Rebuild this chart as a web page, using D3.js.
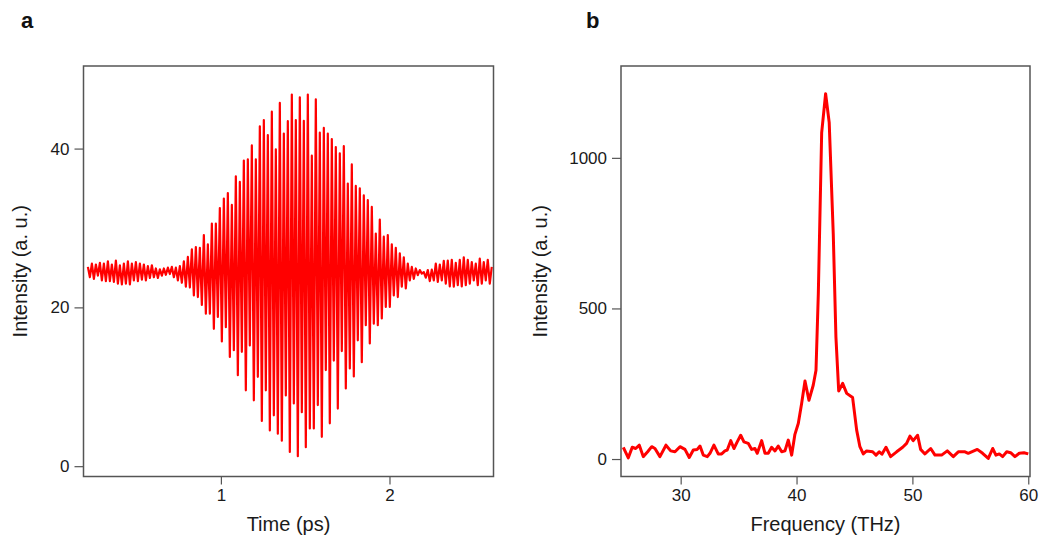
<!DOCTYPE html>
<html>
<head>
<meta charset="utf-8">
<script src="https://cdn.jsdelivr.net/npm/d3@7"></script>
<style>
  body { margin: 0; background: #fff; }
  svg { display: block; font-family: "Liberation Sans", Arial, sans-serif; }
  .tick text { font-size: 17px; fill: #1a1a1a; }
  .axis-title { font-size: 20px; fill: #1a1a1a; }
  .panel-label { font-size: 22px; font-weight: bold; fill: #111; }
</style>
</head>
<body>
<div id="chart"></div>
<script>
// Panel a: time trace, alternating maxima / minima of the oscillation
let tStart = 0.211, tCycle = 0.02372;   // ps, first maximum and oscillation period
let peaks = [
  25.1, 25.5, 25.4, 25.6, 25.5, 25.8, 25.4, 25.9, 25.3, 25.5, 25.8, 25.5, 25.7, 25.5, 25.4, 25.2, 25.3, 24.9, 24.8, 24.9, 25.0,
  25.1, 25.0, 25.2, 25.8, 26.35, 27.3, 27.6, 27.5, 29.1, 27.95, 30.55, 30.55, 32.5, 33.7, 34.4, 32.9, 36.5, 35.8, 38.5, 38.65,
  40.4, 38.65, 42.8, 43.6, 41.7, 44.65, 39.9, 45.75, 41.9, 43.45, 46.8, 43.6, 46.45, 43.5, 46.8, 39.1, 46.2, 42.0, 42.6, 41.9,
  41.2, 40.2, 39.4, 40.3, 35.6, 38.0, 35.3, 35.0, 34.1, 33.5, 32.65, 29.3, 31.05, 28.9, 29.1, 27.95, 27.5, 26.8, 26.3, 25.5,
  25.1, 24.9, 24.7, 24.45, 24.7, 24.75, 25.5, 25.4, 25.85, 25.9, 26.0, 25.6, 26.0, 26.3, 26.0, 25.7, 25.5, 26.15, 25.7, 26.0, 25.1
];
let troughs = [
  23.8, 23.6, 24.0, 23.4, 23.3, 23.3, 23.2, 23.0, 22.9, 23.0, 22.9, 23.4, 23.3, 23.5, 23.4, 23.7, 23.8, 23.7, 24.0, 24.1, 24.2,
  23.8, 23.4, 23.1, 22.6, 22.5, 21.5, 21.3, 20.3, 19.2, 19.2, 17.3, 18.8, 15.7, 17.5, 13.75, 14.6, 11.45, 14.4, 9.55, 15.2,
  8.3, 11.25, 5.7, 9.55, 4.5, 6.4, 4.1, 3.2, 8.9, 1.8, 7.9, 1.25, 6.8, 2.4, 4.75, 4.75, 7.7, 3.7, 12.1, 5.4,
  13.3, 7.25, 14.5, 9.8, 12.3, 11.3, 15.85, 13.1, 17.75, 15.45, 17.95, 17.75, 18.6, 20.05, 20.05, 21.5, 21.3, 22.6, 22.4, 23.4,
  23.6, 24.05, 24.25, 23.75, 23.3, 23.4, 23.2, 23.4, 23.0, 22.65, 22.6, 22.8, 22.65, 22.8, 23.0, 23.4, 22.8, 23.0, 23.4, 23.0
];
let timeTicks = [1, 2];
let traceTicks = [0, 20, 40];

// Panel b: spectrum
let freq = [
  25.05, 25.48, 25.82, 26.12, 26.43, 26.77, 27.15, 27.5, 27.78, 28.21, 28.73, 29.14, 29.51, 29.94, 30.37, 30.74, 31.09,
  31.43, 31.67, 31.95, 32.3, 32.53, 32.87, 33.24, 33.54, 33.82, 34.02, 34.32, 34.6, 34.88, 35.18, 35.46, 35.83, 36.13,
  36.41, 36.61, 36.99, 37.28, 37.56, 37.85, 38.14, 38.42, 38.72, 39.0, 39.29, 39.58, 39.86, 40.15, 40.44, 40.73, 41.07,
  41.44, 41.68, 41.88, 42.17, 42.51, 42.82, 43.17, 43.4, 43.64, 43.98, 44.33, 44.84, 45.19, 45.47, 45.76, 46.05, 46.57,
  46.86, 47.14, 47.37, 47.72, 48.12, 48.64, 49.16, 49.5, 49.79, 50.07, 50.45, 50.71, 51.08, 51.58, 51.95, 52.52, 53.01,
  53.53, 53.96, 54.54, 54.82, 55.6, 56.06, 56.55, 56.93, 57.21, 57.5, 57.79, 58.14, 58.48, 58.85, 59.22, 59.63, 60.0
];
let spectrum = [
  39, 4, 39, 35, 46, 8, 24, 41, 35, 8, 46, 27, 24, 41, 32, 5, 30,
  32, 43, 13, 8, 19, 46, 17, 17, 27, 30, 61, 35, 57, 79, 57, 52, 32,
  35, 19, 61, 19, 19, 39, 27, 43, 24, 27, 63, 13, 82, 118, 184, 259, 195,
  245, 295, 549, 1084, 1213, 1117, 747, 405, 226, 251, 218, 204, 96, 41, 17, 27, 24,
  13, 24, 16, 39, 8, 24, 39, 52, 76, 61, 79, 32, 17, 35, 13, 13, 27,
  8, 24, 24, 19, 32, 19, 2, 35, 13, 17, 8, 24, 21, 8, 19, 21, 17
];
let freqTicks = [30, 40, 50, 60];
let specTicks = [0, 500, 1000];

let W = 1041, H = 542;
let svg = d3.select("#chart").append("svg")
    .attr("width", W)
    .attr("height", H);

// build trace points: max, min, max, min ...
let trace = [];
peaks.forEach(function(p, i) {
    trace.push({t: tStart + i * tCycle, v: p});
    if (i < troughs.length) trace.push({t: tStart + (i + 0.5) * tCycle, v: troughs[i]});
});
let specData = freq.map(function(f, i) { return {f: f, v: spectrum[i]}; });

function drawPanel(opts) {
    let box = opts.box;
    let x = d3.scaleLinear().domain(opts.xDomain).range([box.left, box.right]);
    let y = d3.scaleLinear().domain(opts.yDomain).range([box.bottom, box.top]);

    svg.append("g")
        .attr("transform", "translate(0," + box.bottom + ")")
        .call(d3.axisBottom(x).tickValues(opts.xTicks).tickSize(8).tickPadding(4).tickFormat(d3.format("d")))
        .call(function(g) { g.select(".domain").remove(); })
        .call(function(g) { g.selectAll(".tick line").attr("stroke", "#555").attr("stroke-width", 1.2); });

    svg.append("g")
        .attr("transform", "translate(" + box.left + ",0)")
        .call(d3.axisLeft(y).tickValues(opts.yTicks).tickSize(9).tickPadding(5).tickFormat(d3.format("d")))
        .call(function(g) { g.select(".domain").remove(); })
        .call(function(g) { g.selectAll(".tick line").attr("stroke", "#555").attr("stroke-width", 1.2); });

    let clipId = "clip-" + opts.name;
    svg.append("clipPath").attr("id", clipId)
        .append("rect")
        .attr("x", box.left).attr("y", box.top)
        .attr("width", box.right - box.left).attr("height", box.bottom - box.top);

    svg.append("path")
        .datum(opts.data)
        .attr("clip-path", "url(#" + clipId + ")")
        .attr("fill", "none")
        .attr("stroke", "#ff0000")
        .attr("stroke-width", opts.lineWidth)
        .attr("stroke-linejoin", "round")
        .attr("d", d3.line().x(function(d) { return x(d[opts.xKey]); }).y(function(d) { return y(d.v); }));

    svg.append("rect")
        .attr("x", box.left).attr("y", box.top)
        .attr("width", box.right - box.left).attr("height", box.bottom - box.top)
        .attr("fill", "none")
        .attr("stroke", "#555")
        .attr("stroke-width", 1.5);

    svg.append("text")
        .attr("class", "axis-title")
        .attr("x", (box.left + box.right) / 2)
        .attr("y", 531)
        .attr("text-anchor", "middle")
        .text(opts.xTitle);

    svg.append("text")
        .attr("class", "axis-title")
        .attr("transform", "translate(" + opts.yTitleX + "," + ((box.top + box.bottom) / 2) + ") rotate(-90)")
        .attr("text-anchor", "middle")
        .text(opts.yTitle);

    svg.append("text")
        .attr("class", "panel-label")
        .attr("x", opts.labelX)
        .attr("y", 28)
        .text(opts.name);
}

drawPanel({
    name: "a",
    box: {left: 83.5, right: 493.5, top: 66, bottom: 476.5},
    xDomain: [0.185, 2.617], yDomain: [-1.3, 50.4],
    xTicks: timeTicks, yTicks: traceTicks,
    data: trace, xKey: "t", lineWidth: 2.2,
    xTitle: "Time (ps)", yTitle: "Intensity (a. u.)",
    yTitleX: 27, labelX: 21
});

drawPanel({
    name: "b",
    box: {left: 621, right: 1030, top: 66, bottom: 476.5},
    xDomain: [24.85, 60.15], yDomain: [-58, 1305],
    xTicks: freqTicks, yTicks: specTicks,
    data: specData, xKey: "f", lineWidth: 3,
    xTitle: "Frequency (THz)", yTitle: "Intensity (a. u.)",
    yTitleX: 547, labelX: 586
});
</script>
</body>
</html>
